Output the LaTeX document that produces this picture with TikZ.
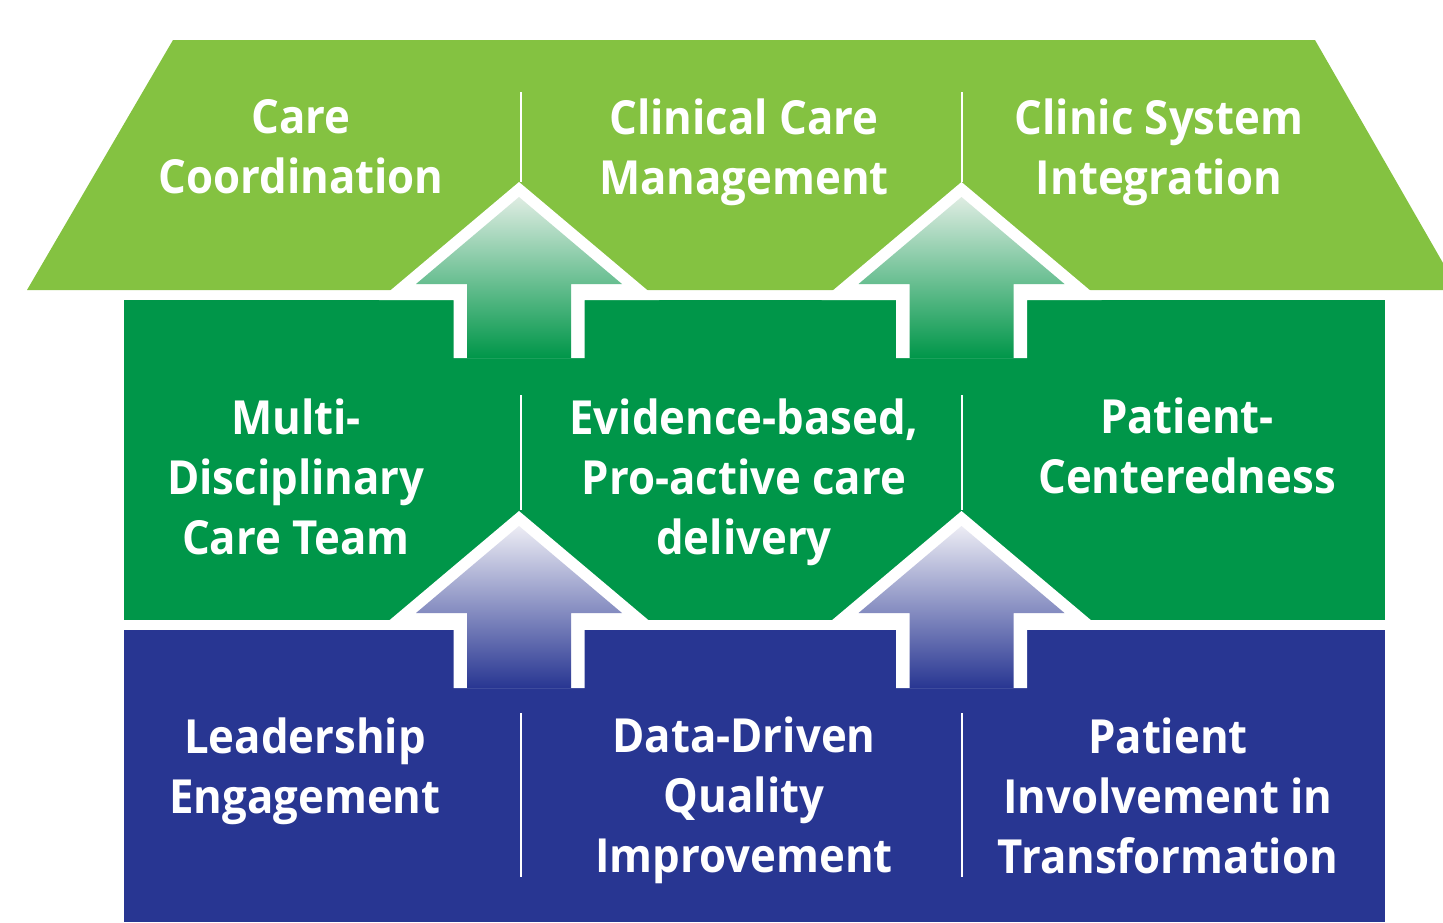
\documentclass[tikz,border=0pt]{standalone}
\usepackage{fontspec}
\setmainfont{Open Sans}[FakeStretch=0.93]
\definecolor{roofgreen}{RGB}{132,194,65}
\definecolor{midgreen}{RGB}{0,150,73}
\definecolor{baseblue}{RGB}{40,54,146}
\definecolor{gtop}{RGB}{222,236,226}
\definecolor{btop}{RGB}{236,236,244}
\tikzset{
  lbl/.style={text=white, font=\bfseries\fontsize{47}{60}\selectfont, align=center, inner sep=0pt},
  divider/.style={draw=white, line width=2.5pt},
}
% #1 center x, #2 inner apex y, #3 bottom y, #4 top colour, #5 bottom colour
\newcommand{\uparr}[5]{%
  \fill[white] (#1,#2-15) -- (#1+140,#2+103) -- (#1+65.5,#2+103) -- (#1+65.5,#3)
     -- (#1-65.5,#3) -- (#1-65.5,#2+103) -- (#1-140,#2+103) -- cycle;
  \shade[top color=#4, bottom color=#5] (#1,#2) -- (#1+103,#2+87) -- (#1+52,#2+87) -- (#1+52,#3)
     -- (#1-52,#3) -- (#1-52,#2+87) -- (#1-103,#2+87) -- cycle;
}
\begin{document}
\begin{tikzpicture}[x=1pt,y=-1pt]
\useasboundingbox (0,0) rectangle (1443,922);
\clip (0,0) rectangle (1443,922);
% roof
\fill[roofgreen] (173,40) -- (1315,40) -- (1443,263) -- (1443,290) -- (27,290) -- cycle;
% middle band
\fill[midgreen] (124,300) rectangle (1385,620);
% base
\fill[baseblue] (124,630) rectangle (1385,922);
% arrows
\uparr{519}{197}{358}{gtop}{midgreen}
\uparr{961.5}{197}{358}{gtop}{midgreen}
\uparr{519}{526}{688}{btop}{baseblue}
\uparr{961.5}{526}{688}{btop}{baseblue}
% dividers
\coordinate (d1a) at (521,92);  \coordinate (d1b) at (521,182);
\coordinate (d2a) at (962,92);  \coordinate (d2b) at (962,182);
\coordinate (d3a) at (521,395); \coordinate (d3b) at (521,510);
\coordinate (d4a) at (962,395); \coordinate (d4b) at (962,510);
\coordinate (d5a) at (521,713); \coordinate (d5b) at (521,877);
\coordinate (d6a) at (962,713); \coordinate (d6b) at (962,877);
\draw[divider] (d1a) -- (d1b);
\draw[divider] (d2a) -- (d2b);
\draw[divider] (d3a) -- (d3b);
\draw[divider] (d4a) -- (d4b);
\draw[divider] (d5a) -- (d5b);
\draw[divider] (d6a) -- (d6b);
% labels
\node[lbl] (t1) at (301,147) {Care\\Coordination};
\node[lbl] (t2) at (744,152) {Clinical Care\\Management};
\node[lbl] (t3) at (1159,152) {Clinic System\\Integration};
\node[lbl] (m1) at (296,477) {Multi-\\Disciplinary\\Care Team};
\node[lbl] (m2) at (744,482) {Evidence-based,\\Pro-active care\\delivery};
\node[lbl] (m3) at (1187,446) {Patient-\\Centeredness};
\node[lbl] (b1) at (305,771) {Leadership\\Engagement};
\node[lbl] (b2) at (744,800) {Data-Driven\\Quality\\Improvement};
\node[lbl] (b3) at (1168,796) {Patient\\Involvement in\\Transformation};
\end{tikzpicture}
\end{document}
